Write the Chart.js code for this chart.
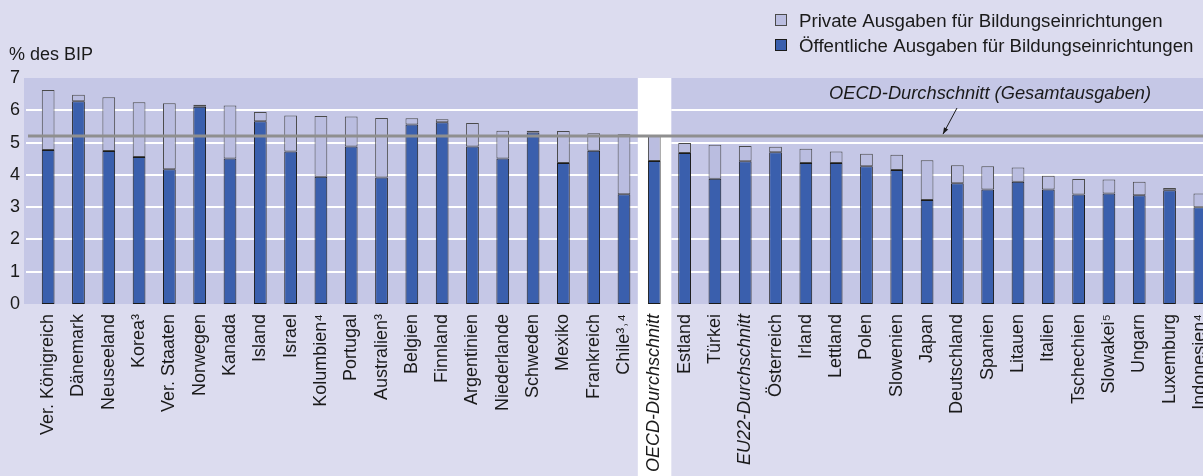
<!DOCTYPE html>
<html>
<head>
<meta charset="utf-8">
<script src="https://cdn.jsdelivr.net/npm/chart.js@4"></script>
<style>
    html, body { margin: 0; padding: 0; background: #dcdcef; overflow: hidden; }
    #wrap { width: 1203px; height: 476px; overflow: hidden; }
</style>
</head>
<body>
<div id="wrap"><canvas id="chart" width="1215" height="476"></canvas></div>
<script>
// Länder (Reihenfolge wie in der Grafik)
const laender = ['Ver. Königreich', 'Dänemark', 'Neuseeland', 'Korea³', 'Ver. Staaten', 'Norwegen', 'Kanada',
    'Island', 'Israel', 'Kolumbien⁴', 'Portugal', 'Australien³', 'Belgien', 'Finnland', 'Argentinien',
    'Niederlande', 'Schweden', 'Mexiko', 'Frankreich', 'Chile³˒⁴', 'OECD-Durchschnitt', 'Estland', 'Türkei',
    'EU22-Durchschnitt', 'Österreich', 'Irland', 'Lettland', 'Polen', 'Slowenien', 'Japan', 'Deutschland',
    'Spanien', 'Litauen', 'Italien', 'Tschechien', 'Slowakei⁵', 'Ungarn', 'Luxemburg', 'Indonesien⁴'];

// Öffentliche Ausgaben für Bildungseinrichtungen (% des BIP)
const oeffentlich = [4.77, 6.28, 4.74, 4.55, 4.17, 6.11, 4.51, 5.66, 4.72, 3.94, 4.88, 3.92, 5.56, 5.63, 4.88,
    4.51, 5.31, 4.37, 4.75, 3.40, 4.43, 4.68, 3.88, 4.42, 4.70, 4.37, 4.37, 4.27, 4.15, 3.22, 3.74,
    3.55, 3.79, 3.55, 3.39, 3.42, 3.37, 3.52, 3.00];

// Private Ausgaben für Bildungseinrichtungen (% des BIP)
const privat = [1.86, 0.20, 1.66, 1.70, 2.05, 0.06, 1.64, 0.29, 1.12, 1.88, 0.93, 1.84, 0.19, 0.09, 0.73,
    0.86, 0.06, 0.99, 0.54, 1.86, 0.77, 0.31, 1.05, 0.47, 0.17, 0.44, 0.35, 0.38, 0.47, 1.23, 0.56,
    0.72, 0.44, 0.42, 0.48, 0.44, 0.42, 0.07, 0.42];

const yTicks = [0, 1, 2, 3, 4, 5, 6, 7];
const oecdGesamt = 5.2;
const kursiv = ['OECD-Durchschnitt', 'EU22-Durchschnitt'];

const schrift = '"Liberation Sans", Arial, sans-serif';

// Hintergrund, weiße OECD-Spalte und Gitterlinien
const hintergrund = {
    id: 'hintergrund',
    beforeDraw(chart) {
        const { ctx, width, height } = chart;
        const x = chart.scales.x, y = chart.scales.y;
        const oben = y.getPixelForValue(yTicks[yTicks.length - 1]);
        const unten = y.getPixelForValue(0);
        ctx.save();
        ctx.fillStyle = '#dcdcef';
        ctx.fillRect(0, 0, width, height);
        ctx.fillStyle = '#c5c7e6';
        ctx.fillRect(24, oben, width - 24, unten - oben);
        const xo = x.getPixelForValue(laender.indexOf('OECD-Durchschnitt'));
        ctx.fillStyle = '#ffffff';
        ctx.fillRect(xo - 16.5, oben, 33.5, height - oben);
        ctx.strokeStyle = '#ffffff';
        ctx.lineWidth = 2;
        yTicks.slice(1, -1).forEach(v => {
            const py = Math.round(y.getPixelForValue(v));
            ctx.beginPath();
            ctx.moveTo(26, py);
            ctx.lineTo(xo - 16.5, py);
            ctx.moveTo(xo + 17, py);
            ctx.lineTo(width, py);
            ctx.stroke();
        });
        ctx.restore();
    },
    afterDatasetsDraw(chart) {
        const { ctx, width } = chart;
        const y = chart.scales.y;
        ctx.save();
        // OECD-Durchschnitt (Gesamtausgaben)
        const py = y.getPixelForValue(oecdGesamt);
        ctx.strokeStyle = '#8f8f8f';
        ctx.lineWidth = 3;
        ctx.beginPath();
        ctx.moveTo(28, py);
        ctx.lineTo(width, py);
        ctx.stroke();

        ctx.fillStyle = '#1a1a1a';
        ctx.font = 'italic 18.3px ' + schrift;
        ctx.textBaseline = 'middle';
        ctx.textAlign = 'left';
        ctx.fillText('OECD-Durchschnitt (Gesamtausgaben)', 829, 94);

        // Pfeil
        const x1 = 957, y1 = 108, x2 = 943, y2 = py - 2;
        ctx.strokeStyle = '#1a1a1a';
        ctx.lineWidth = 1;
        ctx.beginPath();
        ctx.moveTo(x1, y1);
        ctx.lineTo(x2, y2);
        ctx.stroke();
        const w = Math.atan2(y2 - y1, x2 - x1);
        ctx.beginPath();
        ctx.moveTo(x2, y2);
        ctx.lineTo(x2 - 7 * Math.cos(w - 0.35), y2 - 7 * Math.sin(w - 0.35));
        ctx.lineTo(x2 - 7 * Math.cos(w + 0.35), y2 - 7 * Math.sin(w + 0.35));
        ctx.closePath();
        ctx.fill();

        // Achsentitel
        ctx.font = '18px ' + schrift;
        ctx.textBaseline = 'alphabetic';
        ctx.fillText('% des BIP', 9, 60);

        // Legende
        ctx.font = '18.7px ' + schrift;
        const eintraege = [
            { text: 'Private Ausgaben für Bildungseinrichtungen', farbe: '#babde0', rand: '#4a4a4a' },
            { text: 'Öffentliche Ausgaben für Bildungseinrichtungen', farbe: '#3a5fad', rand: '#1a1a1a' }
        ];
        eintraege.forEach((e, i) => {
            const by = 14 + i * 25;
            ctx.fillStyle = e.farbe;
            ctx.fillRect(775, by, 12, 12);
            ctx.strokeStyle = e.rand;
            ctx.lineWidth = 1;
            ctx.strokeRect(775.5, by + 0.5, 11, 11);
            ctx.fillStyle = '#1a1a1a';
            ctx.fillText(e.text, 799, by + 13);
        });
        ctx.restore();
    }
};

const ctx = document.getElementById('chart').getContext('2d');
const chart = new Chart(ctx, {
    type: 'bar',
    data: {
        labels: laender,
        datasets: [{
            label: 'Öffentliche Ausgaben für Bildungseinrichtungen',
            data: oeffentlich,
            backgroundColor: '#3a5fad',
            borderColor: '#1a1a1a',
            borderWidth: 1,
            borderSkipped: false
        }, {
            label: 'Private Ausgaben für Bildungseinrichtungen',
            data: privat,
            backgroundColor: '#babde0',
            borderColor: '#4a4a4a',
            borderWidth: 1,
            borderSkipped: false
        }]
    },
    options: {
        responsive: false,
        animation: false,
        layout: { padding: { top: 78, left: 0, right: 0, bottom: 0 } },
        categoryPercentage: 1,
        barPercentage: 0.42,
        plugins: {
            legend: { display: false },
            tooltip: { enabled: false }
        },
        scales: {
            x: {
                stacked: true,
                grid: { display: false, drawTicks: false },
                border: { display: false },
                ticks: {
                    autoSkip: false,
                    minRotation: 90,
                    maxRotation: 90,
                    padding: 10,
                    color: '#1a1a1a',
                    font: c => ({
                        family: schrift,
                        size: 18,
                        style: kursiv.includes(laender[c.index]) ? 'italic' : 'normal'
                    })
                },
                afterFit: s => {
                    s.height = 172;
                    s.paddingLeft = 0;
                    s.paddingRight = 0;
                }
            },
            y: {
                stacked: true,
                min: 0,
                max: 7,
                grid: { display: false, drawTicks: false },
                border: { display: false },
                ticks: {
                    stepSize: 1,
                    padding: 13,
                    color: '#1a1a1a',
                    font: { family: schrift, size: 18 }
                },
                afterFit: s => {
                    s.width = 33;
                    s.paddingTop = 0;
                    s.paddingBottom = 0;
                }
            }
        }
    },
    plugins: [hintergrund]
});
</script>
</body>
</html>
